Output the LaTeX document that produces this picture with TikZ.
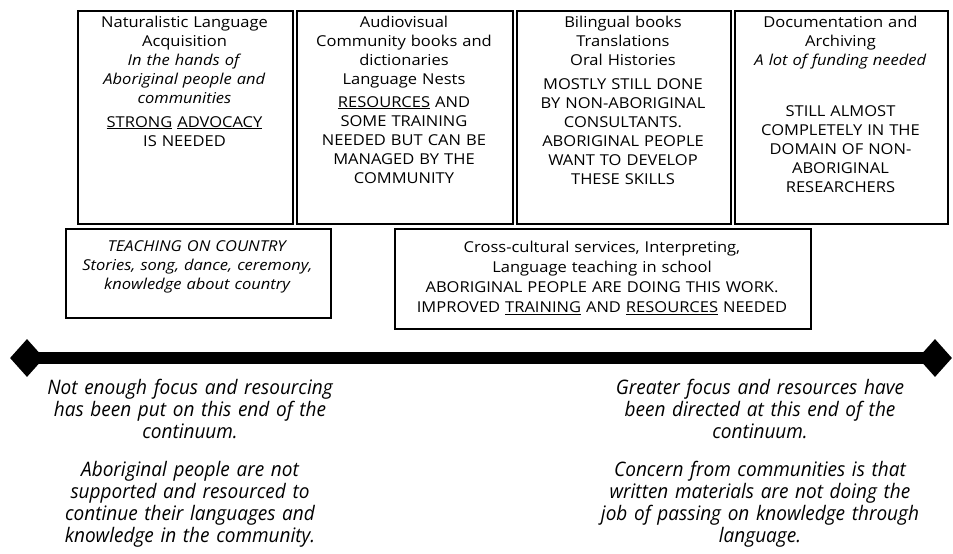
\documentclass[tikz,border=0pt]{standalone}
\usepackage{fontspec}
\setmainfont{Open Sans}[FakeStretch=1.1]
\newfontfamily\bottomfont[FakeStretch=0.95]{Open Sans}
\usetikzlibrary{shapes.geometric}
\begin{document}
\begin{tikzpicture}[x=1pt,y=-1pt,
  box/.style={draw, line width=2pt, anchor=north west, inner sep=0pt},
  txt/.style={anchor=north, inner sep=0pt, align=center, text width=212pt,
    font=\fontsize{15}{19}\selectfont},
  btxt/.style={anchor=north, inner sep=0pt, align=center, text width=340pt,
    font=\bottomfont\itshape\fontsize{20}{22}\selectfont},
  tip/.style={diamond, fill=black, inner sep=0pt, minimum width=34pt, minimum height=38pt}]
\useasboundingbox (0,0) rectangle (953,554);
% top boxes
\node[box, minimum width=215pt, minimum height=213pt] (b1) at (77,10) {};
\node[box, minimum width=216pt, minimum height=213pt] (b2) at (296,10) {};
\node[box, minimum width=214pt, minimum height=213pt] (b3) at (516,10) {};
\node[box, minimum width=213pt, minimum height=213pt] (b4) at (734,10) {};
\node[txt] (t1) at (184.5,15.5) {Naturalistic Language\\ Acquisition\\ \textit{In the hands of}\\ \textit{Aboriginal people and}\\ \textit{communities}\\[5pt] \underline{STRONG} \underline{ADVOCACY}\\ IS NEEDED};
\node[txt] (t2) at (404,15.5) {Audiovisual\\ Community books and\\ dictionaries\\ Language Nests\\[4pt] \underline{RESOURCES} AND\\ SOME TRAINING\\ NEEDED BUT CAN BE\\ MANAGED BY THE\\ COMMUNITY};
\node[txt] (t3) at (623,15.5) {Bilingual books\\ Translations\\ Oral Histories\\[5pt] MOSTLY STILL DONE\\ BY NON-ABORIGINAL\\ CONSULTANTS.\\ ABORIGINAL PEOPLE\\ WANT TO DEVELOP\\ THESE SKILLS};
\node[txt] (t4) at (840.5,15.5) {Documentation and\\ Archiving\\ \textit{A lot of funding needed}\\[32pt] STILL ALMOST\\ COMPLETELY IN THE\\ DOMAIN OF NON-\\ ABORIGINAL\\ RESEARCHERS};
% second row
\node[box, minimum width=265pt, minimum height=89pt] (b5) at (65,228) {};
\node[txt, text width=262pt] (t5) at (197.5,240) {\textit{TEACHING ON COUNTRY}\\ \textit{Stories, song, dance, ceremony,}\\ \textit{knowledge about country}};
\node[box, minimum width=416pt, minimum height=100pt] (b6) at (394,228) {};
\node[txt, text width=412pt, font=\fontsize{15}{20}\selectfont] (t6) at (602,241) {Cross-cultural services, Interpreting,\\ Language teaching in school\\ ABORIGINAL PEOPLE ARE DOING THIS WORK.\\ IMPROVED \underline{TRAINING} AND \underline{RESOURCES} NEEDED};
% continuum
\node[tip] (ld) at (27,358) {};
\node[tip] (rd) at (935,358) {};
\draw[line width=12pt] (ld.center) -- (rd.center);
\node[btxt] (l1) at (190,379) {Not enough focus and resourcing\\ has been put on this end of the\\ continuum.\\[16pt] Aboriginal people are not\\ supported and resourced to\\ continue their languages and\\ knowledge in the community.};
\node[btxt] (r1) at (760,379) {Greater focus and resources have\\ been directed at this end of the\\ continuum.\\[16pt] Concern from communities is that\\ written materials are not doing the\\ job of passing on knowledge through\\ language.};
\end{tikzpicture}
\end{document}
